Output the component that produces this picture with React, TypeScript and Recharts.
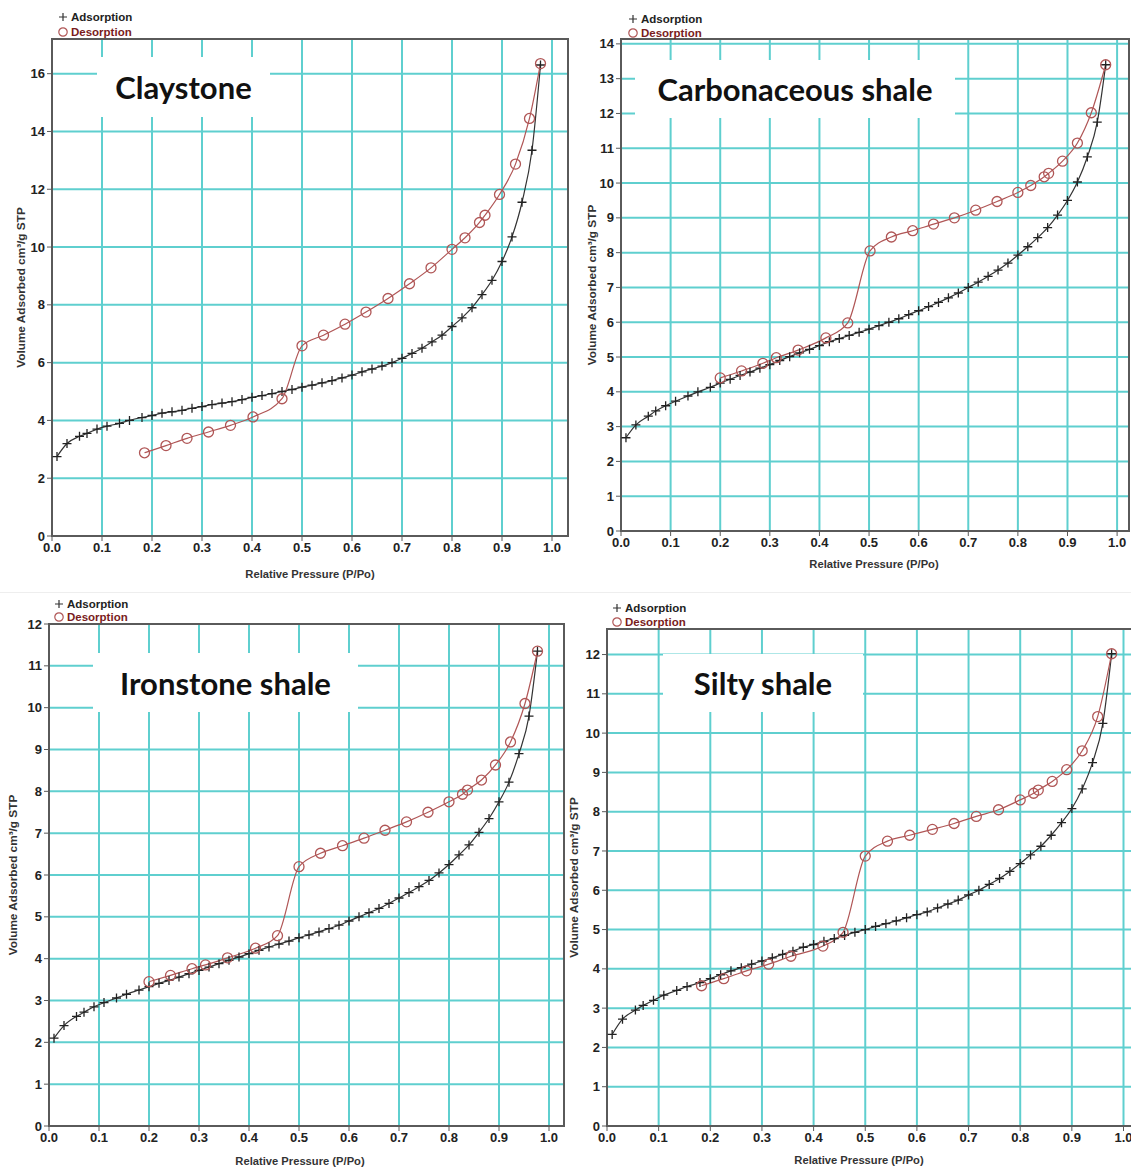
import { LineChart, Line, XAxis, YAxis, CartesianGrid, ReferenceArea } from "recharts";

// relative pressure grid used by every adsorption branch
const adsP = [
    0.01, 0.03, 0.055, 0.07, 0.09, 0.11, 0.135, 0.155, 0.18, 0.2,
    0.22, 0.24, 0.26, 0.28, 0.3, 0.32, 0.34, 0.36, 0.38, 0.4,
    0.42, 0.44, 0.46, 0.48, 0.5, 0.52, 0.54, 0.56, 0.58, 0.6,
    0.62, 0.64, 0.66, 0.68, 0.7, 0.72, 0.74, 0.76, 0.78, 0.8,
    0.82, 0.84, 0.86, 0.88, 0.9, 0.92, 0.94, 0.96, 0.977,
];

const claystoneAdsV = [
    2.75, 3.2, 3.45, 3.55, 3.7, 3.8, 3.9, 4.0, 4.1, 4.17,
    4.25, 4.3, 4.35, 4.42, 4.48, 4.55, 4.6, 4.65, 4.72, 4.8,
    4.86, 4.93, 5.0, 5.07, 5.15, 5.22, 5.3, 5.38, 5.47, 5.57,
    5.68, 5.78, 5.88, 6.0, 6.15, 6.32, 6.5, 6.72, 6.95, 7.25,
    7.55, 7.9, 8.35, 8.85, 9.5, 10.35, 11.55, 13.35, 16.3,
];
const claystoneDesP = [0.185, 0.228, 0.27, 0.313, 0.357, 0.402, 0.46, 0.5, 0.543, 0.586, 0.628, 0.672, 0.715, 0.758, 0.8, 0.826, 0.855, 0.866, 0.895, 0.927, 0.955, 0.977];
const claystoneDesV = [2.88, 3.13, 3.38, 3.6, 3.83, 4.12, 4.75, 6.58, 6.95, 7.33, 7.75, 8.22, 8.73, 9.28, 9.92, 10.32, 10.85, 11.1, 11.82, 12.87, 14.45, 16.35];

const carbonAdsV = [
    2.68, 3.05, 3.3, 3.45, 3.6, 3.73, 3.88, 4.0, 4.13, 4.25,
    4.36, 4.47, 4.57, 4.68, 4.78, 4.9, 5.01, 5.12, 5.22, 5.33,
    5.44, 5.53, 5.62, 5.71, 5.8, 5.9, 6.0, 6.1, 6.22, 6.33,
    6.45, 6.57, 6.7, 6.84, 7.0, 7.15, 7.32, 7.5, 7.7, 7.93,
    8.17, 8.43, 8.72, 9.08, 9.5, 10.03, 10.75, 11.75, 13.4,
];
const carbonDesP = [0.2, 0.243, 0.286, 0.313, 0.357, 0.413, 0.457, 0.502, 0.545, 0.588, 0.63, 0.672, 0.715, 0.758, 0.8, 0.826, 0.853, 0.862, 0.89, 0.92, 0.948, 0.977];
const carbonDesV = [4.4, 4.6, 4.82, 4.98, 5.2, 5.55, 5.98, 8.05, 8.45, 8.63, 8.82, 9.0, 9.22, 9.47, 9.73, 9.93, 10.18, 10.28, 10.63, 11.15, 12.02, 13.4];

const ironAdsV = [
    2.1, 2.4, 2.62, 2.72, 2.85, 2.95, 3.06, 3.15, 3.25, 3.33,
    3.41, 3.48, 3.56, 3.64, 3.72, 3.8, 3.88, 3.96, 4.04, 4.12,
    4.2, 4.28, 4.35, 4.42, 4.5, 4.57, 4.64, 4.72, 4.8, 4.9,
    5.0, 5.1, 5.2, 5.32, 5.45, 5.58, 5.72, 5.87, 6.05, 6.25,
    6.48, 6.72, 7.02, 7.35, 7.75, 8.22, 8.9, 9.8, 11.35,
];
const ironDesP = [0.2, 0.243, 0.286, 0.313, 0.357, 0.413, 0.457, 0.5, 0.543, 0.587, 0.63, 0.672, 0.715, 0.758, 0.8, 0.827, 0.837, 0.865, 0.893, 0.923, 0.952, 0.977];
const ironDesV = [3.45, 3.6, 3.76, 3.85, 4.02, 4.25, 4.55, 6.2, 6.52, 6.7, 6.88, 7.07, 7.27, 7.5, 7.75, 7.93, 8.03, 8.27, 8.63, 9.18, 10.1, 11.35];

const siltyAdsV = [
    2.33, 2.72, 2.95, 3.07, 3.2, 3.33, 3.45, 3.55, 3.65, 3.75,
    3.85, 3.95, 4.03, 4.12, 4.2, 4.28, 4.37, 4.45, 4.55, 4.62,
    4.7, 4.77, 4.85, 4.93, 5.0, 5.08, 5.15, 5.22, 5.3, 5.38,
    5.45, 5.55, 5.65, 5.75, 5.88, 6.0, 6.15, 6.3, 6.48, 6.68,
    6.9, 7.12, 7.4, 7.72, 8.08, 8.58, 9.25, 10.25, 12.02,
];
const siltyDesP = [0.183, 0.226, 0.27, 0.313, 0.356, 0.418, 0.457, 0.5, 0.543, 0.586, 0.63, 0.672, 0.715, 0.758, 0.8, 0.826, 0.835, 0.862, 0.89, 0.92, 0.95, 0.977];
const siltyDesV = [3.57, 3.75, 3.95, 4.12, 4.32, 4.58, 4.93, 6.87, 7.25, 7.4, 7.55, 7.7, 7.88, 8.05, 8.3, 8.47, 8.55, 8.77, 9.07, 9.55, 10.42, 12.02];

const xTicks = [0, 0.1, 0.2, 0.3, 0.4, 0.5, 0.6, 0.7, 0.8, 0.9, 1.0];
const claystoneYTicks = [0, 2, 4, 6, 8, 10, 12, 14, 16];
const carbonYTicks = [0, 1, 2, 3, 4, 5, 6, 7, 8, 9, 10, 11, 12, 13, 14];
const twelveYTicks = [0, 1, 2, 3, 4, 5, 6, 7, 8, 9, 10, 11, 12];

const FONT = '"Liberation Sans", Arial, sans-serif';
const GRID = "#5fcfcf";
const FRAME = "#5a5a5a";
const ADS_COLOR = "#333";
const DES_COLOR = "#b05656";
const YW = 44;
const XH = 50;
const PAD = 2;
const PAD_TOP = 10;

const zip = (p: number[], v: number[]) => p.map((x, i) => ({ x, y: v[i] }));

const panels = [
    {
        name: "Claystone", adsV: claystoneAdsV, desP: claystoneDesP, desV: claystoneDesV, yTicks: claystoneYTicks,
        plot: { left: 52, right: 568, top: 39, bottom: 536 }, xMax: 1.032, yMax: 17.2,
        yTitleX: 21, xTitle: { x: 310, y: 578 }, legend: { x: 63, y: 17, gap: 15 },
        box: { left: 97, top: 57, width: 173, height: 60 },
    },
    {
        name: "Carbonaceous shale", adsV: carbonAdsV, desP: carbonDesP, desV: carbonDesV, yTicks: carbonYTicks,
        plot: { left: 621, right: 1129, top: 39, bottom: 531 }, xMax: 1.024, yMax: 14.14,
        yTitleX: 592, xTitle: { x: 874, y: 568 }, legend: { x: 633, y: 19, gap: 14 },
        box: { left: 635, top: 60, width: 320, height: 58 },
    },
    {
        name: "Ironstone shale", adsV: ironAdsV, desP: ironDesP, desV: ironDesV, yTicks: twelveYTicks,
        plot: { left: 49, right: 564, top: 624, bottom: 1126 }, xMax: 1.03, yMax: 12,
        yTitleX: 13, xTitle: { x: 300, y: 1165 }, legend: { x: 59, y: 604, gap: 13 },
        box: { left: 93, top: 653, width: 265, height: 59 },
    },
    {
        name: "Silty shale", adsV: siltyAdsV, desP: siltyDesP, desV: siltyDesV, yTicks: twelveYTicks,
        plot: { left: 607, right: 1139, top: 629, bottom: 1126 }, xMax: 1.03, yMax: 12.65,
        yTitleX: 574, xTitle: { x: 859, y: 1164 }, legend: { x: 617, y: 608, gap: 14 },
        box: { left: 663, top: 654, width: 200, height: 58 },
    },
];

const renderPlus = (props: any) => {
    const { cx, cy, index } = props;
    return (
        <path
            key={`plus-${index}`}
            d={`M${cx - 4.5},${cy}h9M${cx},${cy - 4.5}v9`}
            stroke="#222"
            strokeWidth={1.3}
            fill="none"
        />
    );
};

// axis titles use their own prop names so the axis cannot move them
const AxisTitle = ({ tx, ty, rotate, text }: { tx: number; ty: number; rotate?: boolean; text: string }) => (
    <text
        x={tx}
        y={ty}
        transform={rotate ? `rotate(-90, ${tx}, ${ty})` : undefined}
        textAnchor="middle"
        dominantBaseline="central"
        fontSize={rotate ? 11.8 : 11.2}
        fontWeight="bold"
        fill="#333"
        fontFamily={FONT}
    >
        {text}
    </text>
);

const tickStyle = { fontSize: 13, fontWeight: "bold", fill: "#222", fontFamily: FONT };

const Panel = ({ cfg }: { cfg: (typeof panels)[number] }) => {
    const { plot, legend } = cfg;
    const left = plot.left - YW;
    const top = plot.top - PAD_TOP;
    const width = plot.right - plot.left + YW + PAD;
    const height = plot.bottom - plot.top + XH + PAD_TOP;
    const ads = zip(adsP, cfg.adsV);
    const des = zip(cfg.desP, cfg.desV);
    const midY = (plot.top + plot.bottom) / 2 - top;

    return (
        <>
            <div style={{ position: "absolute", left, top }}>
                <LineChart width={width} height={height} margin={{ top: PAD_TOP, right: PAD, bottom: 0, left: 0 }}>
                    <CartesianGrid stroke={GRID} strokeWidth={2} />
                    <XAxis
                        type="number"
                        dataKey="x"
                        domain={[0, cfg.xMax]}
                        ticks={xTicks}
                        interval={0}
                        allowDataOverflow
                        height={XH}
                        tickSize={5}
                        tickFormatter={(v: number) => v.toFixed(1)}
                        tick={tickStyle}
                        axisLine={{ stroke: FRAME, strokeWidth: 2 }}
                        tickLine={{ stroke: FRAME }}
                        label={
                            <AxisTitle
                                tx={cfg.xTitle.x - left}
                                ty={cfg.xTitle.y - 4 - top}
                                text="Relative Pressure (P/Po)"
                            />
                        }
                    />
                    <YAxis
                        type="number"
                        domain={[0, cfg.yMax]}
                        ticks={cfg.yTicks}
                        interval={0}
                        allowDataOverflow
                        width={YW}
                        tickSize={5}
                        tick={tickStyle}
                        axisLine={{ stroke: FRAME, strokeWidth: 2 }}
                        tickLine={{ stroke: FRAME }}
                        label={
                            <AxisTitle
                                tx={cfg.yTitleX - left}
                                ty={midY}
                                rotate
                                text="Volume Adsorbed cm³/g STP"
                            />
                        }
                    />
                    <ReferenceArea
                        x1={0}
                        x2={cfg.xMax}
                        y1={0}
                        y2={cfg.yMax}
                        fill="none"
                        fillOpacity={0}
                        stroke={FRAME}
                        strokeWidth={2}
                        ifOverflow="visible"
                    />
                    <Line
                        data={ads}
                        dataKey="y"
                        type="monotone"
                        stroke={ADS_COLOR}
                        strokeWidth={1.2}
                        dot={renderPlus}
                        activeDot={false}
                        isAnimationActive={false}
                    />
                    <Line
                        data={des}
                        dataKey="y"
                        type="monotone"
                        stroke={DES_COLOR}
                        strokeWidth={1.2}
                        dot={{ r: 5, stroke: DES_COLOR, strokeWidth: 1.3, fill: "none" }}
                        activeDot={false}
                        isAnimationActive={false}
                    />
                </LineChart>
            </div>
            <div
                style={{
                    position: "absolute",
                    left: cfg.box.left,
                    top: cfg.box.top,
                    width: cfg.box.width,
                    height: cfg.box.height,
                    background: "#fff",
                    display: "flex",
                    alignItems: "center",
                    justifyContent: "center",
                    fontFamily: "Lato, sans-serif",
                    fontWeight: "bold",
                    fontSize: 31,
                    color: "#111",
                    whiteSpace: "nowrap",
                }}
            >
                {cfg.name}
            </div>
            <div
                style={{
                    position: "absolute",
                    left: legend.x - 6,
                    top: legend.y - legend.gap / 2,
                    fontFamily: FONT,
                    fontWeight: "bold",
                    fontSize: 11.5,
                    lineHeight: `${legend.gap}px`,
                }}
            >
                <div style={{ display: "flex", alignItems: "center", height: legend.gap }}>
                    <svg width={12} height={12}>
                        <path d="M2,6h8M6,2v8" stroke="#333" strokeWidth={1.2} />
                    </svg>
                    <span style={{ marginLeft: 2, color: "#222" }}>Adsorption</span>
                </div>
                <div style={{ display: "flex", alignItems: "center", height: legend.gap }}>
                    <svg width={12} height={12}>
                        <circle cx={6} cy={6} r={4.2} stroke={DES_COLOR} strokeWidth={1.2} fill="none" />
                    </svg>
                    <span style={{ marginLeft: 2, color: "#7a1c1c" }}>Desorption</span>
                </div>
            </div>
        </>
    );
};

const App = () => {
    return (
        <div
            style={{
                position: "absolute",
                left: 0,
                top: 0,
                width: 1131,
                height: 1168,
                overflow: "hidden",
                background: "#fff",
            }}
        >
            <div style={{ position: "absolute", left: 0, top: 592, width: 1131, height: 1, background: "#eee" }} />
            {panels.map((p) => (
                <Panel key={p.name} cfg={p} />
            ))}
        </div>
    );
};

export default App;
